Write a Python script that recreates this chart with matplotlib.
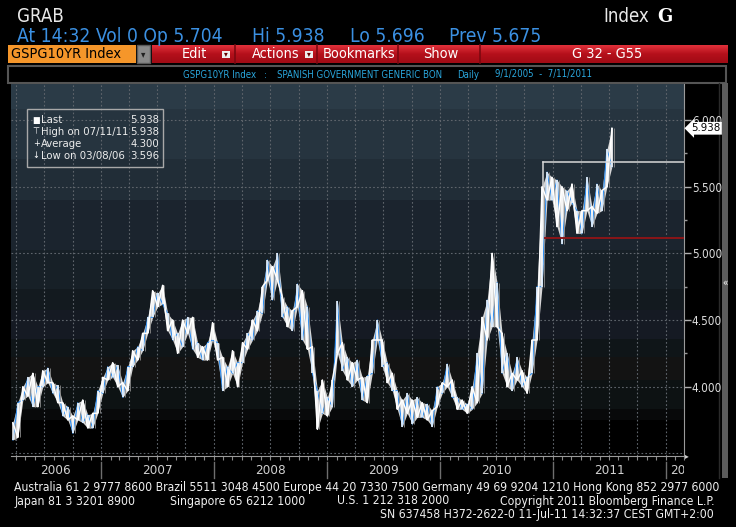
import matplotlib
matplotlib.use('Agg')
import matplotlib.pyplot as plt
import matplotlib.dates as mdates
from matplotlib import font_manager
from matplotlib.patches import Rectangle
from matplotlib.transforms import Bbox, TransformedBbox
import numpy as np
import pandas as pd

# --- data (GSPG10YR Index, ~2 week buckets) ---
first_day = '2006-03-22'
last_day = '2011-07-11'
lo = [3.60, 3.62, 3.90, 3.93, 3.85, 3.85, 4.00, 4.03, 3.95, 3.88,
      3.78, 3.75, 3.65, 3.75, 3.73, 3.69, 3.69, 3.80, 3.95, 4.05,
      4.07, 4.00, 3.92, 3.97, 4.15, 4.20, 4.27, 4.40, 4.52, 4.60,
      4.62, 4.42, 4.35, 4.25, 4.30, 4.40, 4.28, 4.22, 4.20, 4.20,
      4.35, 4.20, 3.97, 4.00, 4.10, 4.00, 4.18, 4.28, 4.35, 4.42,
      4.55, 4.80, 4.65, 4.80, 4.52, 4.45, 4.42, 4.60, 4.35, 4.28,
      4.10, 3.68, 3.80, 3.78, 3.85, 4.25, 4.12, 4.05, 4.00, 4.05,
      3.90, 3.88, 4.10, 4.35, 4.15, 4.03, 3.97, 3.83, 3.70, 3.80,
      3.72, 3.77, 3.77, 3.75, 3.70, 3.85, 3.95, 4.00, 3.92, 3.83,
      3.83, 3.80, 3.83, 3.88, 3.95, 4.35, 4.45, 4.45, 4.10, 4.00,
      3.97, 4.05, 4.00, 3.95, 4.10, 4.35, 4.75, 5.40, 5.40, 5.20,
      5.07, 5.32, 5.38, 5.15, 5.15, 5.32, 5.20, 5.30, 5.32, 5.50,
      5.65]
hi = [3.73, 3.88, 4.00, 4.07, 4.10, 4.00, 4.12, 4.14, 4.03, 4.01,
      3.88, 3.85, 3.78, 3.88, 3.90, 3.79, 3.80, 3.97, 4.07, 4.15,
      4.18, 4.16, 4.03, 4.15, 4.27, 4.30, 4.40, 4.52, 4.72, 4.70,
      4.76, 4.55, 4.50, 4.40, 4.50, 4.52, 4.52, 4.33, 4.30, 4.33,
      4.48, 4.33, 4.22, 4.15, 4.27, 4.18, 4.33, 4.40, 4.50, 4.57,
      4.75, 4.95, 4.90, 5.00, 4.67, 4.60, 4.57, 4.77, 4.72, 4.60,
      4.30, 3.97, 4.05, 3.92, 4.05, 4.64, 4.33, 4.22, 4.18, 4.20,
      4.07, 4.08, 4.35, 4.50, 4.35, 4.18, 4.10, 3.97, 3.90, 3.95,
      3.90, 3.92, 3.88, 3.87, 3.82, 4.00, 4.03, 4.17, 4.05, 3.92,
      3.90, 3.87, 4.00, 4.25, 4.52, 4.65, 5.00, 4.78, 4.40, 4.25,
      4.10, 4.22, 4.12, 4.07, 4.35, 4.75, 5.50, 5.61, 5.57, 5.55,
      5.50, 5.47, 5.52, 5.32, 5.32, 5.57, 5.35, 5.52, 5.47, 5.78,
      5.938]
days = pd.date_range(first_day, last_day, periods=len(hi))

last_val, high_val, avg_val, low_val = 5.938, 5.938, 4.300, 3.596
box_top, box_start = 5.683, '2010-11-29'
box_bottom = 4.92
red_level, red_start = 5.113, '2010-12-06'
ytick_vals = [4.0, 4.5, 5.0, 5.5, 6.0]
years = [2006, 2007, 2008, 2009, 2010, 2011, 2012]
x_left, x_right = pd.Timestamp('2006-03-15'), pd.Timestamp('2012-03-01')

# a condensed face looks closer to the terminal font, if one is installed
cond = any(f.name == 'DejaVu Sans' and f.stretch == 'condensed'
           for f in font_manager.fontManager.ttflist)
stretch = 'condensed' if cond else 'normal'
k = 1.12 if cond else 1.0   # condensed text can be a bit larger
plt.rcParams['font.family'] = ['DejaVu Sans']
plt.rcParams['font.stretch'] = stretch

W, H = 736, 527
fig = plt.figure(figsize=(W / 100, H / 100), dpi=100, facecolor='black')

# chrome layer, pixel coordinates
bg = fig.add_axes([0, 0, 1, 1], zorder=0)
bg.set_xlim(0, W)
bg.set_ylim(H, 0)
bg.axis('off')

bg.text(17, 17, 'GRAB', color='#e8e8e8', fontsize=12 * k, va='center')
bg.text(603, 17, 'Index', color='#e8e8e8', fontsize=12 * k, va='center')
bg.text(657, 17, 'G', color='#ffffff', fontsize=13, va='center', fontweight='bold',
        family='DejaVu Serif', fontstretch='normal')
blue_txt = '#3b90e2'
for xx, s in [(17, 'At 14:32 Vol 0 Op 5.704'), (252, 'Hi 5.938'), (350, 'Lo 5.696'),
              (449, 'Prev 5.675')]:
    bg.text(xx, 37, s, color=blue_txt, fontsize=12.3 * k, va='center')

# toolbar
bg.add_patch(Rectangle((8, 45), 128, 18, facecolor='#f5962a', edgecolor='none'))
bg.text(11, 54, 'GSPG10YR Index', color='black', fontsize=9.3 * k, va='center')
bg.add_patch(Rectangle((137, 45), 13, 18, facecolor='#8a8a8a', edgecolor='#5a5a5a'))
bg.text(143.5, 54, '▾', color='#202020', fontsize=7, ha='center', va='center')
grad = np.linspace(0, 1, 20)[:, None]
red_cmap = matplotlib.colors.LinearSegmentedColormap.from_list('r', ['#e0303a', '#b5101b', '#a10b15'])
bg.imshow(grad, extent=[152, 728, 63, 45], cmap=red_cmap, aspect='auto', zorder=1)
for sx in [235, 317, 398, 480]:
    bg.plot([sx, sx], [45, 63], color='#7c0810', lw=1.2, zorder=2)
for xx, s in [(182, 'Edit'), (252, 'Actions'), (323, 'Bookmarks'), (423, 'Show'),
              (572, 'G 32 - G55')]:
    bg.text(xx, 54, s, color='white', fontsize=9.3 * k, va='center', zorder=3)
for dx in [226, 309]:
    bg.add_patch(Rectangle((dx - 4, 50.5), 8, 7, facecolor='#eeeeee', edgecolor='none', zorder=3))
    bg.text(dx, 54, '▾', color='#600', fontsize=6, ha='center', va='center', zorder=4)

# title strip
bg.add_patch(Rectangle((7.5, 65.5), 718, 17.5, facecolor='black', edgecolor='#555555', lw=1.5))
cyan = '#2aa6dc'
for xx, s in [(183, 'GSPG10YR Index'), (264, ':'), (277, 'SPANISH GOVERNMENT GENERIC BON'),
              (457, 'Daily'), (495, '9/1/2005  -  7/11/2011')]:
    bg.text(xx, 74.5, s, color=cyan, fontsize=6.2 * k, va='center')

# footer
foot = '#f0f0f0'
fs_foot = 7.8 * k
bg.text(14, 487, 'Australia 61 2 9777 8600 Brazil 5511 3048 4500 Europe 44 20 7330 7500 '
        'Germany 49 69 9204 1210 Hong Kong 852 2977 6000', color=foot, fontsize=fs_foot, va='center')
for xx, s in [(14, 'Japan 81 3 3201 8900'), (170, 'Singapore 65 6212 1000'),
              (337, 'U.S. 1 212 318 2000')]:
    bg.text(xx, 501, s, color=foot, fontsize=fs_foot, va='center')
bg.text(714, 501, 'Copyright 2011 Bloomberg Finance L.P.', color=foot, fontsize=fs_foot,
        va='center', ha='right')
bg.text(714, 514.5, 'SN 637458 H372-2622-0 11-Jul-11 14:32:37 CEST GMT+2:00', color=foot,
        fontsize=fs_foot, va='center', ha='right')

# scrollbar on the right
bg.add_patch(Rectangle((721.5, 83), 6.5, 395, facecolor='#5c5c5c', edgecolor='none'))
bg.plot([719, 719], [83, 478], color='#2a2a2a', lw=1)
bg.text(724.8, 283, '«', color='white', fontsize=7, ha='center', va='center')

# --- chart ---
ax_l, ax_r, ax_t, ax_b = 10.7, 684.3, 84, 456
ax = fig.add_axes([ax_l / W, 1 - ax_b / H, (ax_r - ax_l) / W, (ax_b - ax_t) / H], zorder=2)
ymin, ymax = 3.48, 6.27
ax.set_xlim(x_left, x_right)
ax.set_ylim(ymin, ymax)

# banded gradient background
band_edges = [6.27, 6.075, 5.70, 5.40, 5.025, 4.725, 4.575, 4.35, 4.22, 4.05, 3.825, 3.75, 3.48]
band_cols = ['#2b3b47', '#26343f', '#212d37', '#1b242e', '#172027', '#131a1f', '#151a23',
             '#0f1518', '#131313', '#0d1213', '#08090a', '#000000']
rows = 400
vals = np.linspace(ymax, ymin, rows)
img = np.zeros((rows, 1, 3))
for i, v in enumerate(vals):
    for j in range(len(band_cols)):
        if band_edges[j] >= v >= band_edges[j + 1]:
            img[i, 0] = matplotlib.colors.to_rgb(band_cols[j])
            break
ax.imshow(img, extent=[mdates.date2num(x_left), mdates.date2num(x_right), ymin, ymax],
          aspect='auto', zorder=0, interpolation='nearest')

# grid
quarters = pd.date_range('2006-04-01', '2012-01-01', freq='QS')
for q in quarters:
    ax.axvline(q, color='#5f656c', lw=0.8, ls=(0, (1.5, 2)), zorder=1)
for gv in [3.5] + ytick_vals:
    ax.axhline(gv, color='#5f656c', lw=0.8, ls=(0, (1.5, 2)), zorder=1)

# price bars: light range ribbon, white and blue zigzags between the bucket lows and highs
ax.fill_between(days, lo, hi, color='#d6d6d6', lw=0, zorder=2)
zig_a = [h if i % 2 == 0 else l for i, (l, h) in enumerate(zip(lo, hi))]
zig_b = [l if i % 2 == 0 else h for i, (l, h) in enumerate(zip(lo, hi))]
ax.plot(days, zig_b, color='#2f8ff2', lw=0.8, zorder=3)
ax.plot(days, zig_a, color='#ffffff', lw=1.1, zorder=4)
ax.vlines(days, lo, hi, color='#ffffff', lw=1.1, zorder=4)
ax.vlines(days + pd.Timedelta(days=6), lo, hi, color='#8c8c8c', lw=0.6, zorder=3)

# annotation lines
ax.plot([pd.Timestamp(box_start), x_right], [box_top, box_top], color='#d8d8d8', lw=1.1, zorder=5)
ax.plot([pd.Timestamp(box_start)] * 2, [box_top, box_bottom], color='#d8d8d8', lw=1.1, zorder=2)
ax.plot([pd.Timestamp(red_start), x_right], [red_level, red_level], color='#8a1518', lw=1.4, zorder=5)

for s in ['top', 'left']:
    ax.spines[s].set_visible(False)
ax.spines['right'].set_color('#9a9a9a')
ax.spines['bottom'].set_color('#9a9a9a')
ax.yaxis.tick_right()
ax.set_yticks(ytick_vals)
ax.set_yticklabels(['%.3f' % v for v in ytick_vals])
ax.set_yticks([4.25, 4.75, 5.25, 5.75], minor=True)
ax.tick_params(axis='y', which='major', colors='#b0b0b0', labelcolor='#dcdcdc', length=5,
               width=1, pad=0.5, labelsize=7.6 * k)
ax.tick_params(axis='y', which='minor', colors='#9a9a9a', length=2.5, width=1)
ax.xaxis.set_major_locator(mdates.MonthLocator())
ax.xaxis.set_major_formatter(matplotlib.ticker.NullFormatter())
ax.tick_params(axis='x', which='major', colors='#8a8a8a', length=3, width=0.8, direction='out')

# overlay layer: legend box, tags, year band
leg = fig.add_axes([0, 0, 1, 1], zorder=3)
leg.set_xlim(0, W)
leg.set_ylim(H, 0)
leg.axis('off')
leg.patch.set_alpha(0)
leg.add_patch(Rectangle((27, 108.5), 136, 58, facecolor='none', edgecolor='#a8a8a8', lw=1))
rows_txt = [('■', 'Last', last_val), ('⊤', 'High on 07/11/11', high_val),
            ('∔', 'Average', avg_val), ('↓', 'Low on 03/08/06', low_val)]
for i, (sym, name, v) in enumerate(rows_txt):
    yy = 120 + 12 * i
    leg.text(36, yy, sym, color='white', fontsize=6.5, ha='center', va='center')
    leg.text(41, yy, name, color='#ececec', fontsize=7.2 * k, va='center')
    leg.text(159, yy, '%.3f' % v, color='#ececec', fontsize=7.2 * k, va='center', ha='right')

# last value tag on the right axis
ax.annotate('%.3f' % last_val, xy=(1, last_val), xycoords=('axes fraction', 'data'),
            xytext=(5, 0), textcoords='offset points', va='center', ha='left',
            color='black', fontsize=7.3 * k, zorder=6, annotation_clip=False,
            bbox=dict(boxstyle='larrow,pad=0.12', fc='white', ec='none'))
leg.text(687, 455.5, '▸', color='#cfcfcf', fontsize=6, ha='center', va='center')


def to_px(t):
    f = (mdates.date2num(t) - mdates.date2num(x_left)) / (mdates.date2num(x_right) - mdates.date2num(x_left))
    return ax_l + f * (ax_r - ax_l)


for y in years[1:]:
    px = to_px(pd.Timestamp('%d-01-01' % y))
    leg.plot([px, px], [462, 478], color='#6e6e6e', lw=1)
clip = TransformedBbox(Bbox.from_extents(ax_l, 456, ax_r, 486), leg.transData)
for y in years:
    a = max(pd.Timestamp('%d-01-01' % y), x_left)
    b = min(pd.Timestamp('%d-01-01' % (y + 1)), x_right)
    if y == years[-1]:
        t = leg.text(to_px(a) + 4, 470, str(y), color='#d0d0d0', fontsize=8.6 * k,
                     ha='left', va='center')
    else:
        t = leg.text(to_px(a + (b - a) / 2), 470, str(y), color='#d0d0d0', fontsize=8.6 * k,
                     ha='center', va='center')
    t.set_clip_box(clip)
    t.set_clip_on(True)

fig.savefig('out.png', dpi=100, facecolor='black')
